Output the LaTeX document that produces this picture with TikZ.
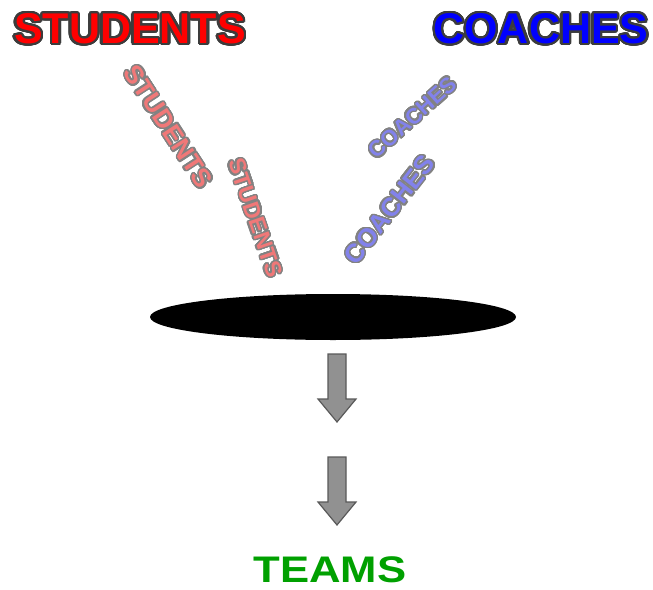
\documentclass[tikz,border=0pt]{standalone}
\usepackage{fontspec}
\setmainfont{Liberation Sans}
\usepackage{contour}
\contournumber{32}
\usepackage{tikz}
\usetikzlibrary{shapes.geometric}

\definecolor{studred}{RGB}{255,0,0}
\definecolor{coachblue}{RGB}{0,0,255}
\definecolor{fadered}{RGB}{240,120,120}
\definecolor{fadeblue}{RGB}{130,130,235}
\definecolor{teamgreen}{RGB}{0,160,0}
\definecolor{rimgray}{RGB}{60,60,60}
\definecolor{fadegray}{RGB}{130,130,130}
\definecolor{arrowgray}{RGB}{145,145,145}

\newcommand{\bigword}[2]{\contourlength{2.2pt}\contour{rimgray}{\textcolor{#1}{#2}}}
\newcommand{\faintword}[2]{\contourlength{1.4pt}\contour{fadegray}{\textcolor{#1}{#2}}}

\tikzset{
  word/.style={inner sep=0pt, font=\bfseries},
  hole/.style={ellipse, fill=black, inner sep=0pt},
  blockarrow/.style={fill=arrowgray, draw=black!65, line width=1.2pt, line join=miter}
}

\begin{document}
\begin{tikzpicture}[x=1pt, y=-1pt]
  \useasboundingbox (0,0) rectangle (653,589);
  % the two groups on top
  \node[word, font=\bfseries\fontsize{43}{43}\selectfont] (students) at (130,30) {\bigword{studred}{STUDENTS}};
  \node[word, font=\bfseries\fontsize{43}{43}\selectfont] (coaches) at (541,30) {\bigword{coachblue}{COACHES}};
  % falling words
  \node[word, font=\bfseries\fontsize{26}{26}\selectfont, rotate=-57] (stud1) at (168,127) {\faintword{fadered}{STUDENTS}};
  \node[word, font=\bfseries\fontsize{23}{23}\selectfont, rotate=-71] (stud2) at (255,218) {\faintword{fadered}{STUDENTS}};
  \node[word, font=\bfseries\fontsize{22}{22}\selectfont, rotate=42] (coach1) at (413,118) {\faintword{fadeblue}{COACHES}};
  \node[word, font=\bfseries\fontsize{26}{26}\selectfont, rotate=52] (coach2) at (390,210) {\faintword{fadeblue}{COACHES}};
  % the hole
  \node[hole, minimum width=366pt, minimum height=46pt] (pit) at (333,317) {};
  % arrows down
  \foreach \t in {354,457}
    \draw[blockarrow] (328,\t) -- ++(18,0) -- ++(0,45) -- ++(10,0) -- ++(-19,23)
      -- ++(-19,-23) -- ++(10,0) -- cycle;
  \node[word, font=\bfseries\fontsize{37}{37}\selectfont, text=teamgreen, xscale=1.18] (teams) at (330,570) {TEAMS};
\end{tikzpicture}
\end{document}
